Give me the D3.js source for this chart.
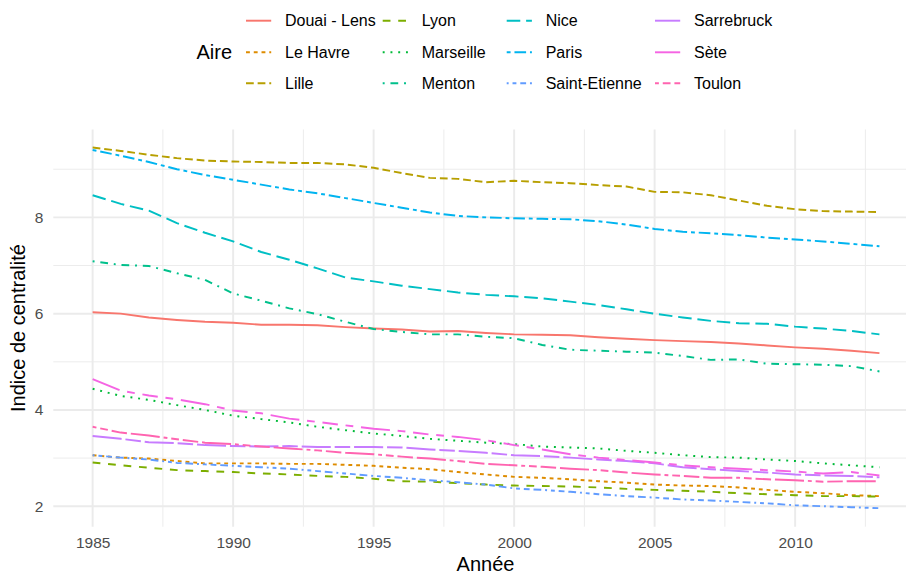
<!DOCTYPE html>
<html>
<head>
<meta charset="utf-8">
<script src="https://cdn.jsdelivr.net/npm/d3@7"></script>
<style>
    body { margin: 0; background: #ffffff; }
    svg { display: block; font-family: "Liberation Sans", Arial, Helvetica, sans-serif; }
</style>
</head>
<body>
<svg id="drawing_region"></svg>
<script>
// years on the x axis
const years = [1985, 1986, 1987, 1988, 1989, 1990, 1991, 1992, 1993, 1994,
               1995, 1996, 1997, 1998, 1999, 2000, 2001, 2002, 2003, 2004,
               2005, 2006, 2007, 2008, 2009, 2010, 2011, 2012, 2013];

const aires = ["Douai - Lens", "Le Havre", "Lille", "Lyon", "Marseille", "Menton",
               "Nice", "Paris", "Saint-Etienne", "Sarrebruck", "Sète", "Toulon"];

// indice de centralite, one array per aire
const douaiLens    = [6.03, 6.00, 5.92, 5.87, 5.83, 5.81, 5.77, 5.77, 5.76, 5.72, 5.69, 5.67, 5.63, 5.64, 5.60, 5.57, 5.56, 5.55, 5.51, 5.48, 5.45, 5.43, 5.41, 5.38, 5.34, 5.30, 5.27, 5.23, 5.18];
const leHavre      = [3.06, 3.01, 2.99, 2.94, 2.89, 2.89, 2.89, 2.88, 2.88, 2.86, 2.84, 2.80, 2.77, 2.71, 2.66, 2.61, 2.59, 2.56, 2.52, 2.49, 2.45, 2.43, 2.42, 2.39, 2.34, 2.30, 2.27, 2.23, 2.21];
const lille        = [9.45, 9.38, 9.30, 9.23, 9.18, 9.16, 9.15, 9.13, 9.13, 9.10, 9.03, 8.92, 8.82, 8.80, 8.73, 8.76, 8.73, 8.71, 8.67, 8.64, 8.53, 8.52, 8.46, 8.35, 8.24, 8.17, 8.13, 8.12, 8.11];
const lyon         = [2.91, 2.85, 2.80, 2.75, 2.73, 2.71, 2.68, 2.66, 2.63, 2.61, 2.57, 2.52, 2.51, 2.48, 2.45, 2.43, 2.42, 2.41, 2.39, 2.36, 2.34, 2.32, 2.30, 2.27, 2.25, 2.23, 2.21, 2.21, 2.20];
const marseille    = [4.44, 4.29, 4.21, 4.10, 4.00, 3.88, 3.81, 3.74, 3.65, 3.58, 3.51, 3.46, 3.40, 3.36, 3.32, 3.29, 3.24, 3.22, 3.20, 3.15, 3.11, 3.06, 3.02, 3.01, 2.97, 2.94, 2.89, 2.85, 2.81];
const menton       = [7.09, 7.01, 6.99, 6.84, 6.70, 6.42, 6.27, 6.11, 5.99, 5.83, 5.68, 5.62, 5.57, 5.57, 5.52, 5.49, 5.35, 5.25, 5.23, 5.21, 5.19, 5.12, 5.04, 5.05, 4.96, 4.95, 4.94, 4.91, 4.80];
const nice         = [8.46, 8.28, 8.14, 7.88, 7.68, 7.50, 7.28, 7.12, 6.94, 6.75, 6.67, 6.58, 6.51, 6.44, 6.39, 6.36, 6.32, 6.25, 6.18, 6.09, 6.00, 5.92, 5.85, 5.80, 5.79, 5.73, 5.69, 5.64, 5.57];
const paris        = [9.40, 9.28, 9.15, 9.00, 8.88, 8.78, 8.68, 8.58, 8.50, 8.40, 8.30, 8.20, 8.10, 8.03, 8.00, 7.98, 7.97, 7.96, 7.92, 7.85, 7.76, 7.70, 7.67, 7.63, 7.58, 7.54, 7.50, 7.45, 7.40];
const saintEtienne = [3.06, 3.01, 2.97, 2.90, 2.87, 2.84, 2.81, 2.78, 2.73, 2.68, 2.63, 2.59, 2.54, 2.50, 2.45, 2.37, 2.34, 2.30, 2.25, 2.21, 2.18, 2.14, 2.12, 2.09, 2.06, 2.02, 2.00, 1.98, 1.96];
const sarrebruck   = [3.46, 3.40, 3.33, 3.31, 3.27, 3.25, 3.24, 3.25, 3.23, 3.23, 3.23, 3.22, 3.18, 3.15, 3.11, 3.06, 3.04, 3.01, 2.97, 2.94, 2.89, 2.81, 2.77, 2.73, 2.70, 2.66, 2.64, 2.63, 2.60];
const sete         = [4.64, 4.40, 4.30, 4.22, 4.12, 3.99, 3.93, 3.82, 3.75, 3.68, 3.61, 3.56, 3.49, 3.44, 3.37, 3.27, 3.18, 3.08, 3.01, 2.96, 2.91, 2.85, 2.81, 2.78, 2.75, 2.72, 2.68, 2.71, 2.64];
const toulon       = [3.65, 3.53, 3.47, 3.39, 3.32, 3.29, 3.24, 3.20, 3.16, 3.11, 3.08, 3.03, 2.99, 2.94, 2.88, 2.85, 2.82, 2.78, 2.75, 2.70, 2.66, 2.63, 2.59, 2.59, 2.56, 2.54, 2.51, 2.52, 2.52];

const xTicks = [1985, 1990, 1995, 2000, 2005, 2010];
const yTicks = [2, 4, 6, 8];

// ggplot hue palette and linetype palette (hex dash codes)
const colors = ["#F8766D", "#DE8C00", "#B79F00", "#7CAE00", "#00BA38", "#00C08B",
                "#00BFC4", "#00B4F0", "#619CFF", "#C77CFF", "#F564E3", "#FF64B0"];
const linetypes = ["solid", "22", "42", "44", "13", "1343",
                   "73", "2262", "12223242", "F282", "F4448444", "224282F2"];

const values = [douaiLens, leHavre, lille, lyon, marseille, menton,
                nice, paris, saintEtienne, sarrebruck, sete, toulon];

const data = aires.map((name, i) => ({
    name: name,
    color: colors[i],
    linetype: linetypes[i],
    points: years.map((y, j) => ({year: y, value: values[i][j]}))
}));

const config = {
    parent: '#drawing_region',
    width: 906,
    height: 574,
    panel: {left: 53.3, top: 129.5, bottom: 526.7},
    lwd: 1.94
};

class LineChart {

    constructor( config, data ) {
        this.config = config;
        this.data = data;
        this.init();
    }

    dash( code ) {
        let self = this;
        if (code === "solid") return null;
        return code.split('').map(c => parseInt(c, 16) * self.config.lwd).join(' ');
    }

    init() {
        let self = this;
        const p = self.config.panel;

        self.svg = d3.select( self.config.parent )
            .attr('width', self.config.width)
            .attr('height', self.config.height);

        // 1985 sits at x=92.7, 28.1 px per year; range padded like ggplot
        self.xscale = d3.scaleLinear()
            .domain([1983.6, 2014.4])
            .range([p.left, p.left + 30.8 * 28.1]);

        self.yscale = d3.scaleLinear()
            .domain([1.575, 9.825])
            .range([p.bottom, p.top]);

        self.grid = self.svg.append('g');
        self.chart = self.svg.append('g');
        self.legend = self.svg.append('g');
    }

    render() {
        let self = this;
        const p = self.config.panel;
        const xr = self.xscale.range();

        // minor grid
        self.grid.selectAll('.xminor')
            .data([1987.5, 1992.5, 1997.5, 2002.5, 2007.5, 2012.5])
            .join('line')
            .attr('x1', d => self.xscale(d)).attr('x2', d => self.xscale(d))
            .attr('y1', p.top).attr('y2', p.bottom)
            .attr('stroke', '#EBEBEB').attr('stroke-width', self.config.lwd / 2);
        self.grid.selectAll('.yminor')
            .data([3, 5, 7, 9])
            .join('line')
            .attr('x1', xr[0]).attr('x2', xr[1])
            .attr('y1', d => self.yscale(d)).attr('y2', d => self.yscale(d))
            .attr('stroke', '#EBEBEB').attr('stroke-width', self.config.lwd / 2);

        // major grid
        self.grid.append('g').selectAll('line')
            .data(xTicks)
            .join('line')
            .attr('x1', d => self.xscale(d)).attr('x2', d => self.xscale(d))
            .attr('y1', p.top).attr('y2', p.bottom)
            .attr('stroke', '#EBEBEB').attr('stroke-width', self.config.lwd);
        self.grid.append('g').selectAll('line')
            .data(yTicks)
            .join('line')
            .attr('x1', xr[0]).attr('x2', xr[1])
            .attr('y1', d => self.yscale(d)).attr('y2', d => self.yscale(d))
            .attr('stroke', '#EBEBEB').attr('stroke-width', self.config.lwd);

        // axes (labels only)
        const xaxis = d3.axisBottom( self.xscale )
            .tickValues(xTicks)
            .tickFormat(d3.format('d'))
            .tickSize(0)
            .tickPadding(10);
        const yaxis = d3.axisLeft( self.yscale )
            .tickValues(yTicks)
            .tickSize(0)
            .tickPadding(10);

        const xg = self.svg.append('g')
            .attr('transform', `translate(0, ${p.bottom})`)
            .call(xaxis);
        const yg = self.svg.append('g')
            .attr('transform', `translate(${p.left}, 0)`)
            .call(yaxis);
        [xg, yg].forEach(g => {
            g.select('.domain').remove();
            g.selectAll('text')
                .attr('fill', '#4D4D4D')
                .attr('font-size', '15.5px')
                .attr('font-family', '"Liberation Sans", Arial, sans-serif');
        });

        // axis titles
        self.svg.append('text')
            .attr('x', (p.left + xr[1]) / 2 - 0.5)
            .attr('y', 571)
            .attr('text-anchor', 'middle')
            .attr('font-size', '20px')
            .attr('fill', 'black')
            .text('Année');

        self.svg.append('text')
            .attr('transform', `translate(25, ${(p.top + p.bottom) / 2}) rotate(-90)`)
            .attr('text-anchor', 'middle')
            .attr('font-size', '20px')
            .attr('fill', 'black')
            .text('Indice de centralité');

        // lines
        const line = d3.line()
            .x(d => self.xscale(d.year))
            .y(d => self.yscale(d.value));

        self.chart.selectAll('path')
            .data(self.data)
            .join('path')
            .attr('d', d => line(d.points))
            .attr('fill', 'none')
            .attr('stroke', d => d.color)
            .attr('stroke-width', self.config.lwd)
            .attr('stroke-linejoin', 'round')
            .attr('stroke-dasharray', d => self.dash(d.linetype));

        // legend, filled by column (3 rows)
        const colX = [246, 382.7, 506.7, 655];
        const rowY = [20.7, 52.3, 83.3];

        self.legend.append('text')
            .attr('x', 196.5)
            .attr('y', 59.3)
            .attr('font-size', '20px')
            .attr('fill', 'black')
            .text('Aire');

        const items = self.legend.selectAll('.item')
            .data(self.data)
            .join('g')
            .attr('class', 'item')
            .attr('transform', (d, i) => `translate(${colX[Math.floor(i / 3)]}, ${rowY[i % 3]})`);

        items.append('line')
            .attr('x1', 0).attr('x2', 25.2)
            .attr('y1', 0).attr('y2', 0)
            .attr('stroke', d => d.color)
            .attr('stroke-width', self.config.lwd)
            .attr('stroke-dasharray', d => self.dash(d.linetype));

        items.append('text')
            .attr('x', 39)
            .attr('y', 5.7)
            .attr('font-size', '16px')
            .attr('fill', 'black')
            .text(d => d.name);
    }
}

const line_chart = new LineChart( config, data );
line_chart.render();
</script>
</body>
</html>
